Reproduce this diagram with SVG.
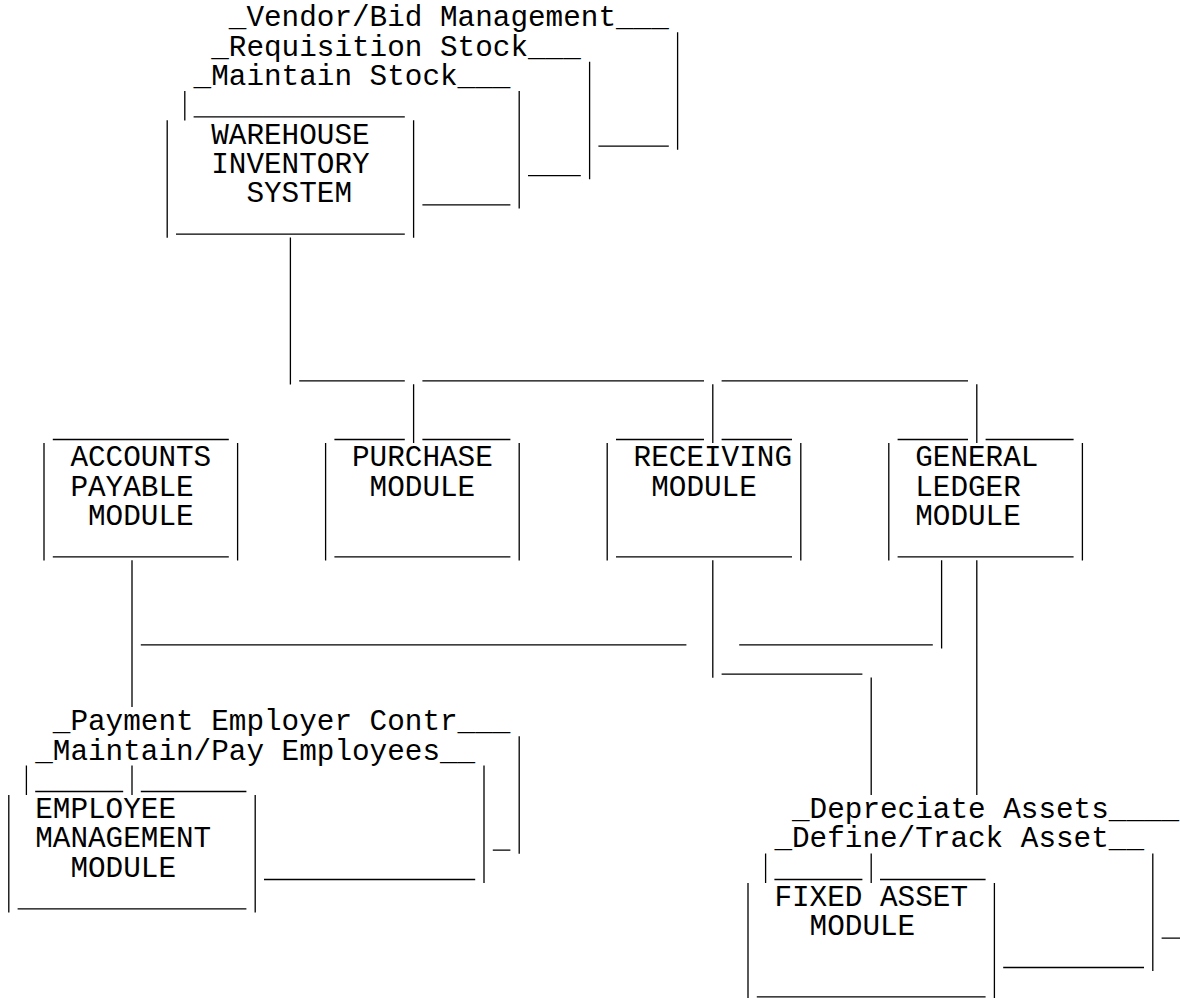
<svg xmlns="http://www.w3.org/2000/svg" width="1180" height="998" viewBox="0 0 1180 998">
<style>
.ln{stroke:#000;stroke-width:1.3;fill:none}
.t{font-family:"Liberation Mono","Courier New",monospace;font-size:29.33px;fill:#000}
</style>
<rect width="1180" height="998" fill="#fff"/>
<g id="connectors">
<path class="ln" d="M677.6 32.3V149.8M598.4 146.2H668.8M589.6 61.7V179.2M528 175.6H580.8M519.2 91V208.5M422.4 204.9H510.4M290.4 237.6V384.5M299.2 380.9H404.8M422.4 380.9H704M721.6 380.9H968M413.6 384.3V443.1M712.8 384.3V443.1M976.8 384.3V443.1M132 560.3V707.1M140.8 644.8H686.4M712.8 560.3V677.8M721.6 674.2H862.4M871.2 677.6V795.1M941.6 560.3V648.4M739.2 644.8H932.8M976.8 560.3V795.1M519.2 736.3V853.7M492.8 850.1H510.4M484 765.6V883.1M264 879.5H475.2M1152.8 853.6V971.1M1161.6 938.1H1180M1003.2 967.5H1144"/>
</g>
<g id="fn-vendor"><text class="t" x="228.8" y="26.2">_Vendor/Bid Management___</text></g>
<g id="fn-requisition"><text class="t" x="211.2" y="55.5">_Requisition Stock___</text></g>
<g id="fn-maintain-stock"><text class="t" x="193.6" y="84.9">_Maintain Stock___</text></g>
<g id="warehouse">
<path class="ln" d="M193.6 116.9H404.8M184.8 91V120.5M167.2 120.3V237.8M413.6 120.3V237.8M176 234.2H404.8"/>
<text class="t" x="211.2" y="143.5">WAREHOUSE</text>
<text class="t" x="211.2" y="172.9">INVENTORY</text>
<text class="t" x="246.4" y="202.2">SYSTEM</text>
</g>
<g id="accounts-payable">
<path class="ln" d="M52.8 439.5H228.8M44 443V560.4M237.6 443V560.4M52.8 556.8H228.8"/>
<text class="t" x="70.4" y="466.2">ACCOUNTS</text>
<text class="t" x="70.4" y="495.5">PAYABLE</text>
<text class="t" x="88" y="524.8">MODULE</text>
</g>
<g id="purchase">
<path class="ln" d="M334.4 439.5H404.8M422.4 439.5H510.4M325.6 443V560.4M519.2 443V560.4M334.4 556.8H510.4"/>
<text class="t" x="352" y="466.2">PURCHASE</text>
<text class="t" x="369.6" y="495.5">MODULE</text>
</g>
<g id="receiving">
<path class="ln" d="M616 439.5H704M721.6 439.5H792M607.2 443V560.4M800.8 443V560.4M616 556.8H792"/>
<text class="t" x="633.6" y="466.2">RECEIVING</text>
<text class="t" x="651.2" y="495.5">MODULE</text>
</g>
<g id="general-ledger">
<path class="ln" d="M897.6 439.5H968M985.6 439.5H1073.6M888.8 443V560.4M1082.4 443V560.4M897.6 556.8H1073.6"/>
<text class="t" x="915.2" y="466.2">GENERAL</text>
<text class="t" x="915.2" y="495.5">LEDGER</text>
<text class="t" x="915.2" y="524.8">MODULE</text>
</g>
<g id="fn-payment"><text class="t" x="52.8" y="730.1">_Payment Employer Contr___</text></g>
<g id="fn-maintain-pay"><text class="t" x="35.2" y="759.5">_Maintain/Pay Employees__</text></g>
<g id="employee-management">
<path class="ln" d="M26.4 765.6V795.1M35.2 791.5H123.2M132 765.6V795.1M140.8 791.5H246.4M8.8 794.9V912.4M255.2 794.9V912.4M17.6 908.8H246.4"/>
<text class="t" x="35.2" y="818.1">EMPLOYEE</text>
<text class="t" x="35.2" y="847.4">MANAGEMENT</text>
<text class="t" x="70.4" y="876.8">MODULE</text>
</g>
<g id="fn-depreciate"><text class="t" x="792" y="818.1">_Depreciate Assets____</text></g>
<g id="fn-define-track"><text class="t" x="774.4" y="847.4">_Define/Track Asset__</text></g>
<g id="fixed-asset">
<path class="ln" d="M765.6 853.6V883.1M774.4 879.5H862.4M871.2 853.6V883.1M880 879.5H985.6M748 882.9V998M994.4 882.9V998M756.8 996.8H985.6"/>
<text class="t" x="774.4" y="906.1">FIXED ASSET</text>
<text class="t" x="809.6" y="935.4">MODULE</text>
</g>
</svg>
